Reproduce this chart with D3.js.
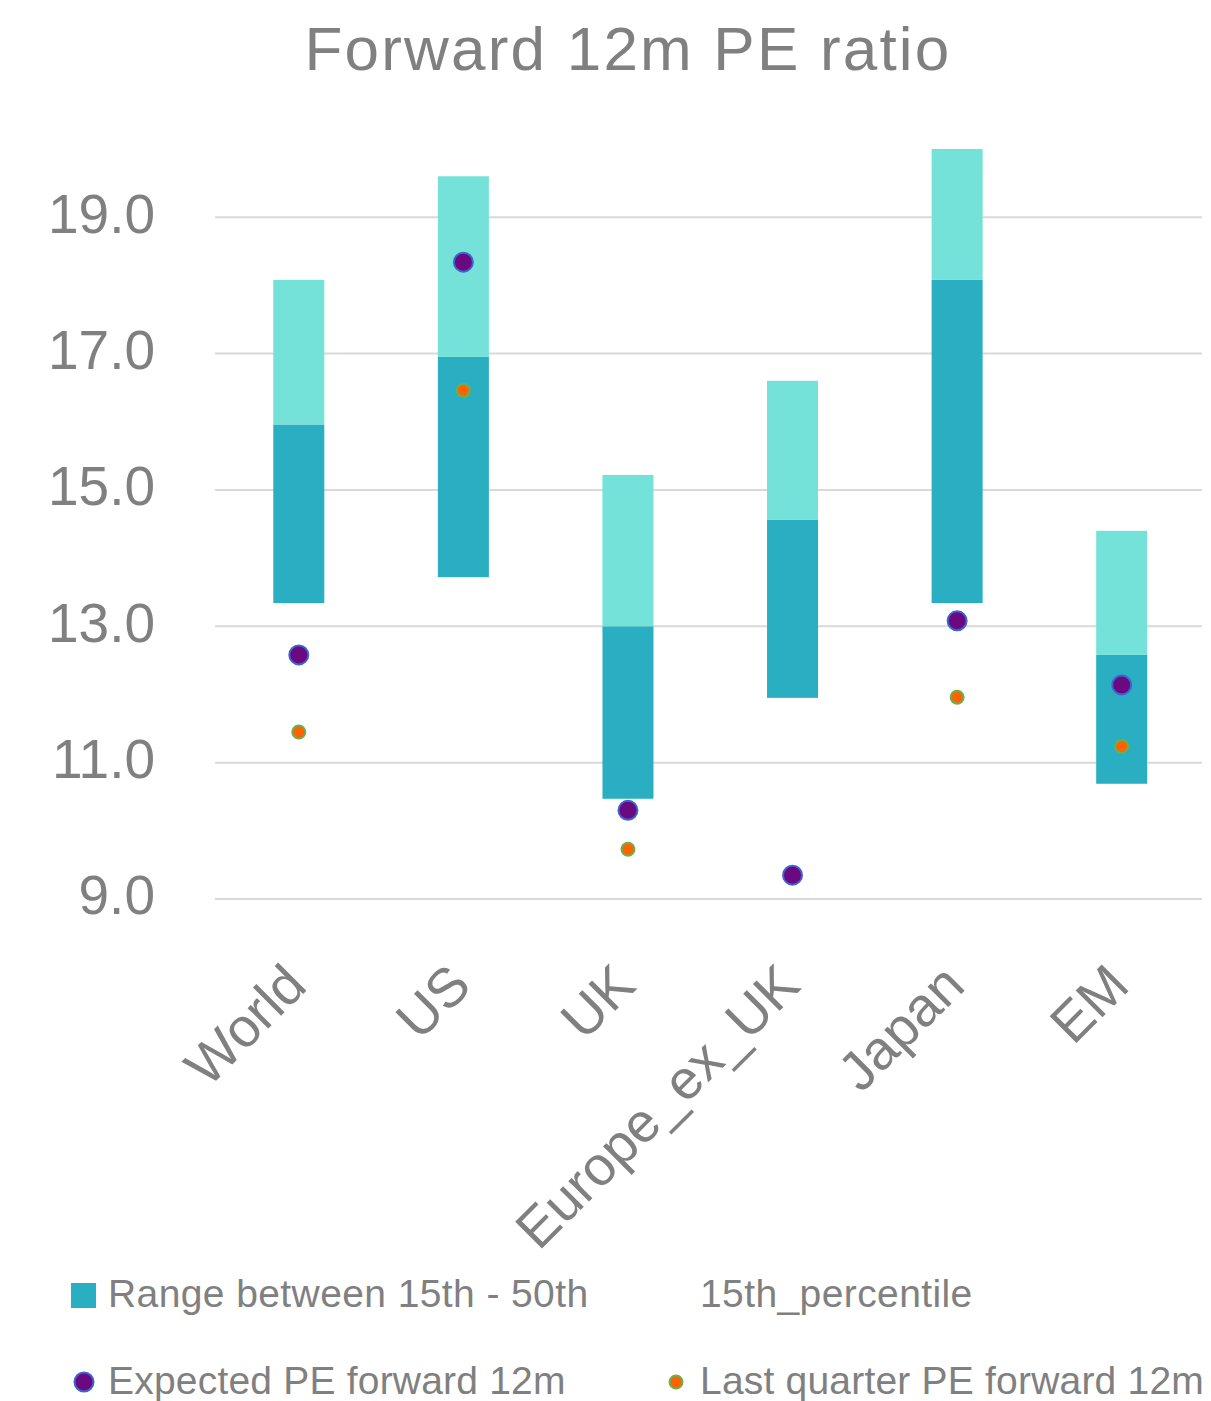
<!DOCTYPE html>
<html>
<head>
<meta charset="utf-8">
<script src="https://cdn.jsdelivr.net/npm/d3@7"></script>
<style>
  body { margin: 0; background: #fff; }
  text { font-family: "Liberation Sans", Arial, sans-serif; fill: #808080; }
</style>
</head>
<body>
<div id="chart"></div>
<script>
const categories = ['World', 'US', 'UK', 'Europe_ex_UK', 'Japan', 'EM'];
const p15 = [13.34, 13.72, 10.47, 11.95, 13.34, 10.69];
const p50 = [15.96, 16.95, 13.00, 14.56, 18.08, 12.58];
const p85 = [18.08, 19.60, 15.22, 16.60, 20.00, 14.40];
const expected = [12.58, 18.34, 10.30, 9.35, 13.08, 12.14];
const lastQuarter = [11.45, 16.46, 9.73, null, 11.96, 11.24];
const yTicks = [9, 11, 13, 15, 17, 19];

const width = 1211;
const height = 1401;

const svg = d3.select('#chart').append('svg')
    .attr('width', width)
    .attr('height', height);

const x = d3.scaleBand()
    .domain(categories)
    .range([216.5, 1204])
    .paddingInner(0.69)
    .paddingOuter(0.345);

const y = d3.scaleLinear()
    .domain([9, 20])
    .range([899, 149]);

// title
svg.append('text')
    .attr('x', 628)
    .attr('y', 70)
    .attr('text-anchor', 'middle')
    .style('font-size', '62px')
    .style('letter-spacing', '2.2px')
    .text('Forward 12m PE ratio');

// gridlines
svg.append('g')
    .selectAll('line')
    .data(yTicks)
    .enter().append('line')
    .attr('x1', 215)
    .attr('x2', 1202)
    .attr('y1', d => y(d))
    .attr('y2', d => y(d))
    .attr('stroke', '#d9d9d9')
    .attr('stroke-width', 2);

// y labels
const yAxis = svg.append('g')
    .attr('transform', 'translate(215,0)')
    .call(d3.axisLeft(y).tickValues(yTicks).tickFormat(d3.format('.1f')).tickSize(0).tickPadding(60));
yAxis.select('.domain').remove();
yAxis.selectAll('.tick text')
    .style('font-size', '55px')
    .attr('dy', '0.27em');

// bars: 15th-50th, 50th-85th
const bars = svg.append('g');
bars.selectAll('rect.low')
    .data(categories)
    .enter().append('rect')
    .attr('class', 'low')
    .attr('x', d => x(d))
    .attr('width', x.bandwidth())
    .attr('y', (d, i) => y(p50[i]))
    .attr('height', (d, i) => y(p15[i]) - y(p50[i]))
    .style('fill', '#2aafc2');

bars.selectAll('rect.high')
    .data(categories)
    .enter().append('rect')
    .attr('class', 'high')
    .attr('x', d => x(d))
    .attr('width', x.bandwidth())
    .attr('y', (d, i) => y(p85[i]))
    .attr('height', (d, i) => y(p50[i]) - y(p85[i]))
    .style('fill', '#74e2d8');

// expected dots
svg.append('g')
    .selectAll('circle')
    .data(categories)
    .enter().append('circle')
    .attr('cx', d => x(d) + x.bandwidth() / 2)
    .attr('cy', (d, i) => y(expected[i]))
    .attr('r', 9.5)
    .style('fill', '#6b0a80')
    .style('stroke', '#3f63d0')
    .style('stroke-width', 2);

// last quarter dots
svg.append('g')
    .selectAll('circle')
    .data(categories.filter((d, i) => lastQuarter[i] != null))
    .enter().append('circle')
    .attr('cx', d => x(d) + x.bandwidth() / 2)
    .attr('cy', d => y(lastQuarter[categories.indexOf(d)]))
    .attr('r', 6.5)
    .style('fill', '#ff6200')
    .style('stroke', '#6ab04c')
    .style('stroke-width', 2);

// x labels rotated
svg.append('g')
    .selectAll('text')
    .data(categories)
    .enter().append('text')
    .attr('text-anchor', 'end')
    .attr('transform', d => 'translate(' + (x(d) + x.bandwidth() / 2 + 10) + ',988) rotate(-45)')
    .style('font-size', '55px')
    .text(d => d);

// legend
const legend = svg.append('g');
legend.append('rect')
    .attr('x', 71).attr('y', 1283).attr('width', 25).attr('height', 25)
    .style('fill', '#2aafc2');
legend.append('text').attr('x', 108).attr('y', 1307).style('font-size', '39px').style('letter-spacing', '0.4px')
    .text('Range between 15th - 50th');
legend.append('text').attr('x', 700).attr('y', 1307).style('font-size', '39px').style('letter-spacing', '0.4px')
    .text('15th_percentile');
legend.append('circle').attr('cx', 84).attr('cy', 1382).attr('r', 9.5)
    .style('fill', '#6b0a80').style('stroke', '#3f63d0').style('stroke-width', 2);
legend.append('text').attr('x', 108).attr('y', 1394).style('font-size', '39px').style('letter-spacing', '0.2px')
    .text('Expected PE forward 12m');
legend.append('circle').attr('cx', 676).attr('cy', 1382).attr('r', 6.5)
    .style('fill', '#ff6200').style('stroke', '#6ab04c').style('stroke-width', 2);
legend.append('text').attr('x', 700).attr('y', 1394).style('font-size', '39px').style('letter-spacing', '0.2px')
    .text('Last quarter PE forward 12m');
</script>
</body>
</html>
